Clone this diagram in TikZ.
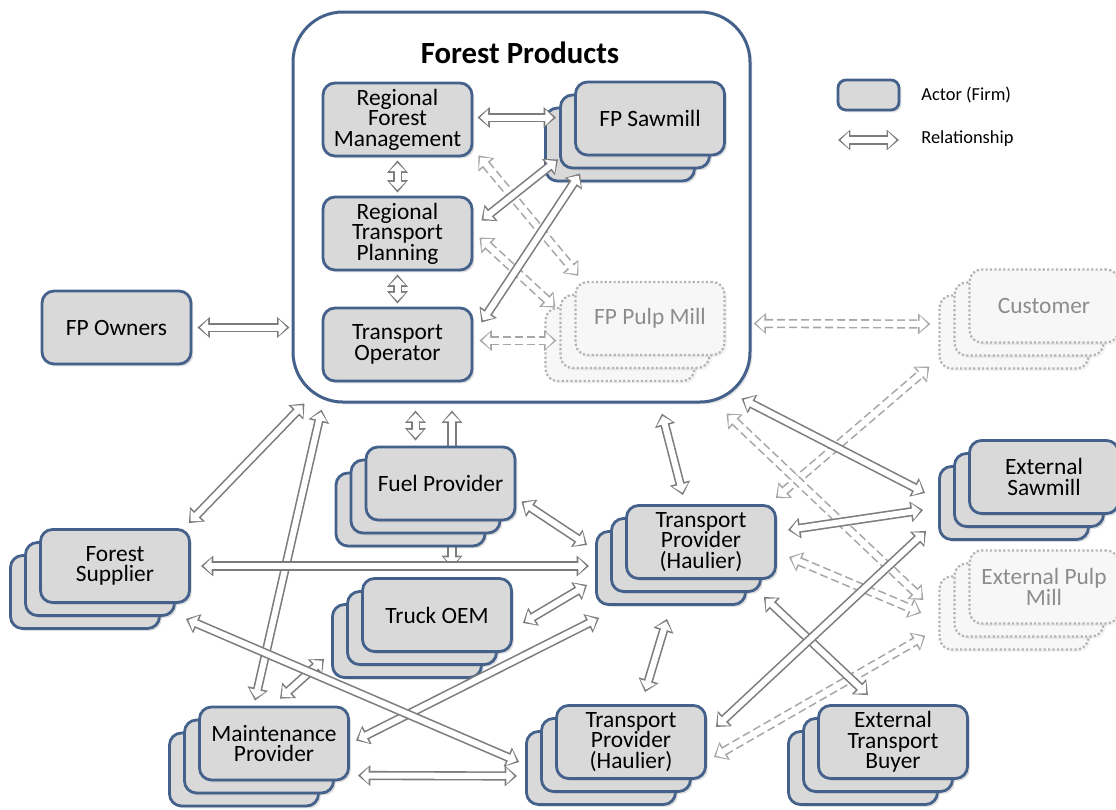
\documentclass[tikz,border=0pt]{standalone}
\usepackage{fontspec}
\setmainfont{Carlito}
\usetikzlibrary{calc,arrows.meta,shadows}
\definecolor{boxline}{HTML}{44618B}
\definecolor{boxfill}{HTML}{D9D9D9}
\definecolor{ghostline}{HTML}{B4B4B4}
\definecolor{ghostfill}{HTML}{F7F7F7}
\definecolor{ghosttext}{HTML}{8C8C8C}
\definecolor{relline}{HTML}{7C7C7C}
\definecolor{reldashline}{HTML}{A6A6A6}
\pgfdeclarelayer{background}
\pgfsetlayers{background,main}
\tikzstyle{actor}=[draw=boxline,fill=boxfill,line width=1.4pt,rounded corners=6pt,minimum width=74.5pt,minimum height=36.5pt,align=center,inner sep=1pt,font=\fontsize{11.7}{10.2}\selectfont,drop shadow={shadow xshift=1.2pt,shadow yshift=-1.2pt,opacity=0.25}]
\tikzstyle{ghost}=[draw=ghostline,fill=ghostfill,text=ghosttext,line width=1.1pt,dash pattern=on 1.1pt off 1.1pt,rounded corners=6pt,minimum width=74.5pt,minimum height=36.5pt,align=center,inner sep=1pt,font=\fontsize{11.7}{10.2}\selectfont,drop shadow={shadow xshift=1.2pt,shadow yshift=-1.2pt,opacity=0.1}]
\tikzstyle{legend}=[font=\fontsize{9.2}{10}\selectfont,inner sep=0pt]
\tikzstyle{rel}=[draw=white,line width=3pt,{Triangle[length=4.1pt,width=7.9pt]}-{Triangle[length=4.1pt,width=7.9pt]},shorten <=1.3pt,shorten >=1.3pt,preaction={draw=relline,line width=4.6pt,{Triangle[length=6.2pt,width=10pt]}-{Triangle[length=6.2pt,width=10pt]},shorten <=0pt,shorten >=0pt}]
\tikzstyle{reldash}=[draw=white,line width=3pt,{Triangle[length=4.1pt,width=7.9pt]}-{Triangle[length=4.1pt,width=7.9pt]},shorten <=1.3pt,shorten >=1.3pt,preaction={draw=reldashline,line width=4.6pt,dash pattern=on 4pt off 2pt,{Triangle[length=6.2pt,width=10pt]}-{Triangle[length=6.2pt,width=10pt]},shorten <=0pt,shorten >=0pt}]

% three boxes stacked, front one named #1
\newcommand{\actorstack}[4]{%
  \node[#3] (#1-3) at ($(#2)+(-30,26)$) {};
  \node[#3] (#1-2) at ($(#2)+(-15,13)$) {};
  \node[#3] (#1) at (#2) {#4};
}

\begin{document}
\begin{tikzpicture}[x=0.5pt,y=-0.5pt]
    \useasboundingbox (0,0) rectangle (1116,810);

    % forest products firm
    \node[draw=boxline,line width=1.5pt,rounded corners=25pt,fill=white,minimum width=228.5pt,minimum height=195pt,drop shadow={shadow xshift=1.2pt,shadow yshift=-1.2pt,opacity=0.2}] (fpc) at (521.5,207) {};
    \node[font=\fontsize{15.4}{16}\selectfont\bfseries] (fptitle) at (520,53) {Forest Products};
    \node[actor] (rfm) at (397.5,119.5) {Regional\\Forest\\Management};
    \node[actor] (rtp) at (397.5,233.5) {Regional\\Transport\\Planning};
    \node[actor] (op) at (397.5,344.5) {Transport\\Operator};
    \actorstack{saw}{650,118.5}{actor}{FP Sawmill}
    \actorstack{pulp}{650,318.5}{ghost}{FP Pulp Mill}

    % other actors
    \node[actor] (owners) at (116.5,327.5) {FP Owners};
    \actorstack{fs}{115,566}{actor}{Forest\\Supplier}
    \actorstack{fuel}{440.5,483.5}{actor}{Fuel Provider}
    \actorstack{oem}{437,615}{actor}{Truck OEM}
    \actorstack{maint}{274,743.5}{actor}{Maintenance\\Provider}
    \actorstack{tpc}{701,542}{actor}{Transport\\Provider\\(Haulier)}
    \actorstack{tpb}{631,742}{actor}{Transport\\Provider\\(Haulier)}
    \actorstack{etb}{893,742}{actor}{External\\Transport\\Buyer}
    \actorstack{cust}{1044,306}{ghost}{Customer}
    \actorstack{esaw}{1044,477}{actor}{External\\Sawmill}
    \actorstack{epulp}{1044,587}{ghost}{External Pulp\\Mill}

    % legend
    \node[actor,minimum width=30.5pt,minimum height=15pt,rounded corners=4pt] (lgbox) at (868.5,95) {};
    \node[legend,anchor=west] (lgactor) at (921,95) {Actor (Firm)};
    \coordinate (lga) at (838,140);
    \coordinate (lgb) at (899,140);
    \draw[rel] (lga) -- (lgb);
    \node[legend,anchor=west] (lgrel) at (921,139) {Relationship};

    % behind the fuel provider
    \begin{pgfonlayer}{background}
    \draw[rel] ($(fpc.south)+(-69.5,7)$) -- ($(oem.north)+(15,-9)$);
    \end{pgfonlayer}

    % dashed relationships
    \draw[reldash] ($(rfm.south east)+(5,-2)$) -- ($(pulp.north west)+(4,-5)$);
    \draw[reldash] ($(rtp.east)+(6,4)$) -- ($(pulp.west)+(-19,-11)$);
    \draw[reldash] ($(op.east)+(6,-4)$) -- ($(pulp.west)+(-18,22)$);
    \draw[reldash] ($(pulp.east)+(28,5)$) -- ($(cust.west)+(-38,18)$);
    \draw[reldash] ($(tpc.north east)+(-1,-6)$) -- ($(cust.south west)+(-39,23)$);
    \draw[reldash] ($(fpc.south east)+(-25,10)$) -- ($(epulp.west)+(-45,13)$);
    \draw[reldash] ($(tpc.east)+(12,15)$) -- ($(epulp.west)+(-47,26)$);
    \draw[reldash] ($(tpb.east)+(7,15)$) -- ($(epulp.south west)+(-43,11)$);

    % solid relationships
    \draw[rel] ($(rfm.east)+(4,-2)$) -- ($(saw.west)+(-18,-1)$);
    \draw[rel] ($(rfm.south)+(0,3)$) -- ($(rtp.north)+(0,-3)$);
    \draw[rel] ($(rtp.south)+(0,3)$) -- ($(op.north)+(0,-3)$);
    \draw[rel] ($(rtp.east)+(8,-13)$) -- ($(saw.south west)+(-16,3)$);
    \draw[rel] ($(op.east)+(8,-22)$) -- ($(saw.south west)+(6,17)$);
    \draw[rel] ($(owners.east)+(5,0)$) -- ($(owners.east -| fpc.west)+(-2,0)$);
    \draw[rel] ($(fpc.south west)+(13,0)$) -- ($(fs.north east)+(-2,-5)$);
    \draw[rel] ($(fpc.south west)+(30,6)$) -- ($(maint.north)+(-19,-5)$);
    \draw[rel] ($(fpc.south)+(-106,7)$) -- ($(fuel.north)+(-25,-5)$);
    \draw[rel] ($(fuel.east)+(5,18)$) -- ($(tpc.west)+(-38,3)$);
    \draw[rel] ($(fs.east)+(10,0)$) -- ($(fs.east -| tpc.west)+(-36,0)$);
    \draw[rel] ($(oem.east)+(10,8)$) -- ($(tpc.south west)+(-38,5)$);
    \draw[rel] ($(maint.east)+(6,-3)$) -- ($(tpc.south west)+(-26,38)$);
    \draw[rel] ($(maint.north)+(6,-7)$) -- ($(oem.south west)+(-37,6)$);
    \draw[rel] ($(fs.south east)+(-5,15)$) -- ($(tpb.west)+(-36,20)$);
    \draw[rel] ($(maint.east)+(8,32)$) -- ($(tpb.west)+(-38,34)$);
    \draw[rel] ($(fpc.south)+(140.5,10)$) -- ($(tpc.north)+(-18,-9)$);
    \draw[rel] ($(tpc.south)+(-34,39)$) -- ($(tpb.north)+(14,-12)$);
    \draw[rel] ($(tpc.south east)+(-13,17)$) -- ($(etb.north)+(-25,-9)$);
    \draw[rel] ($(tpb.east)+(9,-15)$) -- ($(esaw.south west)+(-42,16)$);
    \draw[rel] ($(tpc.east)+(11,-12)$) -- ($(esaw.west)+(-45,33)$);
    \draw[rel] ($(fpc.south east)+(-10,-5)$) -- ($(esaw.west)+(-43,16)$);
\end{tikzpicture}
\end{document}
